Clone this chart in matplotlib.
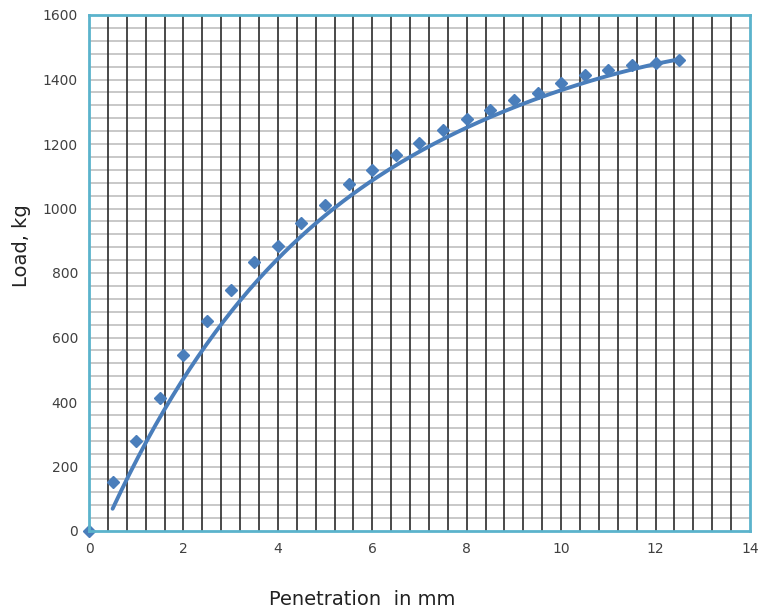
import numpy as np
import matplotlib
matplotlib.use("Agg")
import matplotlib.pyplot as plt

# readings
penetration = [0, 0.5, 1, 1.5, 2, 2.5, 3, 3.5, 4, 4.5, 5, 5.5, 6, 6.5,
               7, 7.5, 8, 8.5, 9, 9.5, 10, 10.5, 11, 11.5, 12, 12.5]
load = [0, 152, 279, 412, 546, 651, 747, 834, 884, 955, 1011, 1076, 1119, 1166,
        1203, 1243, 1277, 1305, 1336, 1358, 1389, 1414, 1429, 1445, 1451, 1460]

# points
trend_x = [0.5, 1.1, 2.0, 3.2, 4.4, 5.45, 6.85, 8.3, 9.35, 10.85, 12.5]
trend_y = [75, 235, 480, 705, 905, 1040, 1160, 1265, 1330, 1414, 1460]

x_ticks = [0, 2, 4, 6, 8, 10, 12, 14]
y_ticks = [0, 200, 400, 600, 800, 1000, 1200, 1400, 1600]

blue = "#4a7ebb"
spine_col = "#5bb3cc"

fig = plt.figure(figsize=(7.68, 6.15), dpi=100)
ax = fig.add_axes([89 / 768, 1 - 531 / 615, 661 / 768, 516 / 615])

# grid like the excel chart: light horizontal, dark vertical
for yv in np.arange(40, 1600, 40):
    ax.axhline(yv, color="#c4c4c4", lw=1.3, zorder=1)
for xv in np.arange(0.4, 14, 0.4):
    ax.axvline(xv, color="#2a2a2a", lw=1.2, zorder=1)

# smooth the trend readings with a polynomial
coef = np.polyfit(trend_x, trend_y, 4)
xs = np.linspace(trend_x[0], trend_x[-1], 200)
ax.plot(xs, np.polyval(coef, xs), color=blue, lw=2.8, zorder=3, solid_capstyle="round")

ax.plot(penetration, load, linestyle="none", marker="D", ms=6.5,
        color=blue, zorder=4, clip_on=False)

ax.set_xlim(0, 14)
ax.set_ylim(0, 1600)
ax.set_xticks(x_ticks)
ax.set_yticks(y_ticks)
ax.tick_params(length=0, labelsize=10, labelcolor="#404040", pad=8)
for s in ax.spines.values():
    s.set_color(spine_col)
    s.set_linewidth(2)
    s.set_zorder(5)

fig.text(0.472, 0.025, "Penetration  in mm", fontsize=14, ha="center", va="center", color="#222222")
fig.text(0.028, 0.6, "Load, kg", fontsize=14, rotation=90, ha="center", va="center", color="#222222")

plt.savefig("out.png", dpi=100)
